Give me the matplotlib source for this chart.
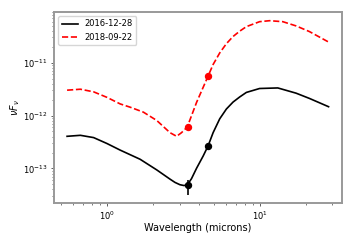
import matplotlib
matplotlib.use('Agg')
import matplotlib.pyplot as plt

# SED curves (wavelength in microns, nuF_nu)
wl_2016 = [0.548, 0.670, 0.818, 1.0, 1.221, 1.649, 2.119, 2.587, 2.79, 3.007, 3.19,
           3.357, 3.58, 3.866, 4.27, 4.60, 4.96, 5.48, 6.06, 6.70, 7.41, 8.19, 10.0,
           13.16, 17.35, 21.2, 28.3]
sed_2016 = [4.05e-13, 4.23e-13, 3.83e-13, 2.96e-13, 2.22e-13, 1.49e-13, 9.38e-14,
            6.28e-14, 5.44e-14, 4.92e-14, 4.75e-14, 4.85e-14, 6.40e-14, 1.01e-13,
            1.72e-13, 2.68e-13, 4.75e-13, 8.68e-13, 1.33e-12, 1.80e-12, 2.25e-12,
            2.74e-12, 3.25e-12, 3.33e-12, 2.65e-12, 2.11e-12, 1.47e-12]

wl_2018 = [0.548, 0.670, 0.818, 1.0, 1.221, 1.419, 1.733, 2.119, 2.587, 2.86, 3.08,
           3.357, 3.866, 4.60, 4.96, 5.48, 6.06, 6.70, 7.41, 8.19, 10.0, 11.62, 14.19,
           17.35, 21.2, 28.3]
sed_2018 = [3.02e-12, 3.15e-12, 2.81e-12, 2.21e-12, 1.66e-12, 1.44e-12, 1.16e-12,
            8.08e-13, 4.75e-13, 4.05e-13, 4.75e-13, 6.07e-13, 1.78e-12, 5.60e-12,
            9.25e-12, 1.53e-11, 2.29e-11, 3.13e-11, 3.95e-11, 4.81e-11, 5.97e-11,
            6.23e-11, 5.97e-11, 4.96e-11, 3.88e-11, 2.46e-11]

# WISE photometry (W1, W2)
phot_wl = [3.4, 4.6]
phot_2016 = [4.8e-14, 2.7e-13]
phot_2016_err_lo = [1.6e-14, 0.0]
phot_2016_err_hi = [1.3e-14, 0.0]
phot_2018 = [6.1e-13, 5.6e-12]

fig = plt.figure(figsize=(3.6, 2.4), dpi=100)
ax = fig.add_axes([0.15, 0.153, 0.799, 0.797])

ax.plot(wl_2016, sed_2016, color='black', lw=1.2, label='2016-12-28')
ax.plot(wl_2018, sed_2018, color='red', lw=1.2, ls='--', label='2018-09-22')
ax.errorbar(phot_wl, phot_2016, yerr=[phot_2016_err_lo, phot_2016_err_hi],
            fmt='o', color='black', ms=4.3, elinewidth=1.2)
ax.plot(phot_wl, phot_2018, 'o', color='red', ms=4.3)

ax.set_xscale('log')
ax.set_yscale('log')
ax.set_xlabel('Wavelength (microns)', fontsize=7, labelpad=0.5)
ax.set_ylabel(r'$\nu F_\nu$', fontsize=7, labelpad=0.5)
ax.tick_params(labelsize=6, which='major', length=2.5, width=0.6, pad=2,
               color='#444444')
ax.tick_params(which='minor', length=1.5, width=0.5, color='#444444')
for s in ax.spines.values():
    s.set_color('#999999')
    s.set_linewidth(1.4)
ax.legend(loc='upper left', fontsize=6)

fig.savefig('out.png', dpi=100)
